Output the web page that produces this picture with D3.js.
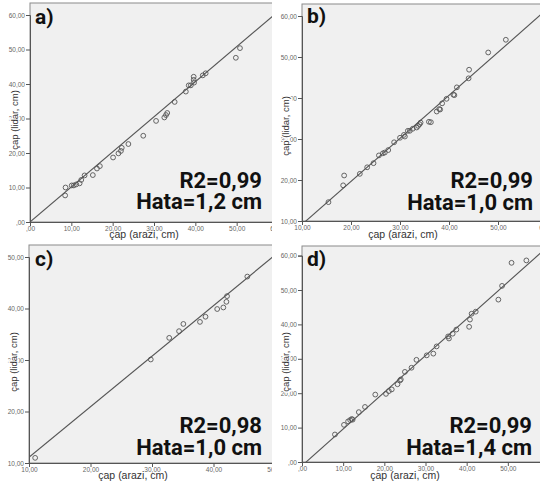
<!DOCTYPE html>
<html><head><meta charset="utf-8">
<script src="https://cdn.jsdelivr.net/npm/d3@7"></script>
<style>
html,body{margin:0;padding:0;background:#fff;}
svg{display:block;}
</style></head>
<body>
<svg id="chart" width="540" height="488"></svg>
<script>
// ---- data ----
const panelNames = ["a)", "b)", "c)", "d)"];
const r2Labels = ["R2=0,99", "R2=0,99", "R2=0,98", "R2=0,99"];
const errLabels = ["Hata=1,2 cm", "Hata=1,0 cm", "Hata=1,0 cm", "Hata=1,4 cm"];
const xTitle = "çap (arazi, cm)";
const yTitle = "çap (lidar, cm)";

const aX = [8.6, 8.5, 10.1, 10.6, 11.2, 12.0, 12.4, 13.2, 15.2, 16.2, 16.9, 20.1, 21.4, 22.0, 22.2, 23.8, 27.4, 30.5, 32.5, 32.9, 33.2, 35.0, 37.7, 38.4, 38.9, 39.6, 39.6, 39.7, 41.8, 42.5, 49.8, 50.8];
const aY = [10.0, 7.7, 10.6, 10.6, 10.9, 11.2, 12.2, 13.5, 13.6, 15.5, 16.2, 18.7, 19.9, 20.6, 21.5, 22.6, 25.0, 29.3, 30.3, 31.0, 31.6, 34.8, 37.8, 39.6, 39.6, 41.2, 42.1, 40.4, 42.5, 43.1, 47.6, 50.4];

const bX = [15.4, 18.6, 18.4, 21.8, 23.3, 24.6, 25.7, 26.5, 26.9, 27.6, 28.8, 30.0, 30.8, 31.0, 31.6, 32.0, 32.6, 33.4, 33.7, 34.0, 34.2, 35.9, 36.3, 37.5, 38.0, 38.2, 38.6, 39.5, 40.9, 41.1, 41.6, 44.0, 44.1, 48.0, 51.6];
const bY = [14.6, 21.1, 18.7, 21.5, 23.1, 24.1, 26.0, 26.5, 26.7, 27.3, 29.2, 30.3, 31.0, 30.6, 32.0, 32.0, 32.5, 32.8, 33.2, 33.6, 34.0, 34.2, 34.1, 36.7, 37.3, 37.2, 38.7, 39.8, 40.8, 40.7, 42.6, 44.8, 46.9, 51.1, 54.2];

const cX = [11.0, 29.8, 32.8, 34.4, 35.1, 37.8, 38.7, 40.6, 41.6, 42.1, 42.2, 45.5];
const cY = [11.0, 30.1, 34.3, 35.6, 37.0, 37.4, 38.4, 39.9, 40.2, 41.3, 42.4, 46.2];

const dX = [8.0, 10.2, 11.2, 11.7, 12.1, 12.3, 13.8, 15.3, 17.8, 20.4, 21.1, 21.8, 23.2, 23.8, 24.0, 25.0, 26.6, 27.8, 30.3, 31.9, 32.7, 35.5, 35.7, 36.6, 37.5, 40.6, 40.8, 41.2, 42.2, 47.7, 48.6, 50.9, 54.5];
const dY = [8.0, 10.8, 11.8, 12.2, 12.5, 12.3, 14.5, 16.0, 19.6, 19.8, 20.6, 21.1, 22.6, 23.7, 24.0, 26.2, 27.4, 29.7, 31.0, 31.5, 33.6, 36.5, 35.9, 37.3, 38.5, 39.3, 41.4, 43.1, 43.7, 47.2, 51.2, 57.9, 58.6];

// fitted lines: slope, intercept
const fitSlope = [1.016, 1.05, 0.982, 1.067];
const fitIntercept = [0.0, -1.34, 1.28, -1.07];

// axis domains and tick values
const xDomains = [[0, 60], [10, 60], [10, 50], [0, 60]];
const yDomains = [[0, 60], [10, 60], [10, 50], [0, 60]];
const xTickValues = [[0,10,20,30,40,50,60],[10,20,30,40,50,60],[10,20,30,40,50],[0,10,20,30,40,50,60]];
const yTickValues = [[0,10,20,30,40,50,60],[10,20,30,40,50,60],[10,20,30,40,50],[0,10,20,30,40,50,60]];

const seriesX = [aX, bX, cX, dX];
const seriesY = [aY, bY, cY, dY];

// ---- layout ----
const layout = [
  {clipX:0,   clipW:272, left:30,  top:3,   bottom:222, xr:[30,278],  yr:[222,15],  yTitleX:14,  yTitleY:120, xTitleX:144, xTitleY:238, labX:35,  labY:24,  txtR:262, r2Y:188, errY:209},
  {clipX:272, clipW:268, left:302, top:4,   bottom:221, xr:[302,547], yr:[221,16],  yTitleX:285, yTitleY:126, xTitleX:403, xTitleY:238, labX:307, labY:23,  txtR:533, r2Y:188, errY:210},
  {clipX:0,   clipW:272, left:29,  top:245, bottom:463, xr:[29,275],  yr:[463,257], yTitleX:13,  yTitleY:362, xTitleX:133, xTitleY:479, labX:35,  labY:266, txtR:262, r2Y:433, errY:455},
  {clipX:272, clipW:268, left:302, top:246, bottom:462, xr:[302,549], yr:[462,255.6], yTitleX:285, yTitleY:362, xTitleX:405, xTitleY:479, labX:307, labY:266, txtR:532, r2Y:433, errY:455}
];

const svg = d3.select("#chart");
const defs = svg.append("defs");
const fmt = v => v === 0 ? ",00" : v + ",00";

layout.forEach((L, i) => {
  const x = d3.scaleLinear().domain(xDomains[i]).range(L.xr);
  const y = d3.scaleLinear().domain(yDomains[i]).range(L.yr);
  const clipId = "clip" + i;
  defs.append("clipPath").attr("id", clipId)
    .append("rect").attr("x", L.clipX).attr("y", 0).attr("width", L.clipW).attr("height", 488);
  const pClip = "pclip" + i;
  const right = L.clipX + L.clipW + 10;
  defs.append("clipPath").attr("id", pClip)
    .append("rect").attr("x", L.left).attr("y", L.top).attr("width", right - L.left).attr("height", L.bottom - L.top);

  const g = svg.append("g").attr("clip-path", `url(#${clipId})`);

  // plot background + frame
  g.append("rect").attr("x", L.left).attr("y", L.top)
    .attr("width", right - L.left).attr("height", L.bottom - L.top)
    .attr("fill", "#f0f0f0").attr("stroke", "#8a8a8a").attr("stroke-width", 1);

  // axes
  const xAxis = d3.axisBottom(x).tickValues(xTickValues[i]).tickFormat(fmt).tickSize(4).tickPadding(0);
  const yAxis = d3.axisLeft(y).tickValues(yTickValues[i]).tickFormat(fmt).tickSize(4).tickPadding(1);
  const gx = g.append("g").attr("transform", `translate(0,${L.bottom})`).call(xAxis);
  const gy = g.append("g").attr("transform", `translate(${L.left},0)`).call(yAxis);
  [gx, gy].forEach(ax => {
    ax.select(".domain").attr("stroke", "#555");
    ax.selectAll(".tick line").attr("stroke", "#555");
    ax.selectAll(".tick text").attr("fill", "#666")
      .style("font-family", "'Liberation Sans', Arial, sans-serif").style("font-size", "6.5px");
  });

  // points and fit line, clipped to plot area
  const pg = g.append("g").attr("clip-path", `url(#${pClip})`);
  const xd = xDomains[i];
  const x0 = xd[0] - 5, x1 = xd[1] + 10;
  pg.append("line")
    .attr("x1", x(x0)).attr("y1", y(fitSlope[i] * x0 + fitIntercept[i]))
    .attr("x2", x(x1)).attr("y2", y(fitSlope[i] * x1 + fitIntercept[i]))
    .attr("stroke", "#555").attr("stroke-width", 1.1);
  pg.selectAll("circle").data(seriesX[i].map((v, k) => [v, seriesY[i][k]]))
    .enter().append("circle")
    .attr("cx", d => x(d[0])).attr("cy", d => y(d[1])).attr("r", 2.4)
    .attr("fill", "none").attr("stroke", "#555").attr("stroke-width", 0.9);

  // axis titles
  g.append("text").attr("x", L.xTitleX).attr("y", L.xTitleY)
    .attr("text-anchor", "middle").attr("fill", "#333")
    .style("font-family", "'Liberation Sans', Arial, sans-serif").style("font-size", "10.5px")
    .text(xTitle);
  g.append("text").attr("transform", `translate(${L.yTitleX},${L.yTitleY}) rotate(-90)`)
    .attr("text-anchor", "middle").attr("dominant-baseline", "central").attr("fill", "#333")
    .attr("stroke", "#fff").attr("stroke-width", 3).attr("paint-order", "stroke")
    .style("font-family", "'Liberation Sans', Arial, sans-serif").style("font-size", "9.5px")
    .text(yTitle);

  // panel label and stats
  const big = "Roboto, 'Noto Sans', sans-serif";
  g.append("text").attr("x", L.labX).attr("y", L.labY).attr("fill", "#111")
    .style("font-family", big).style("font-weight", "700").style("font-size", "21px")
    .text(panelNames[i]);
  g.append("text").attr("x", L.txtR).attr("y", L.r2Y).attr("text-anchor", "end").attr("fill", "#111")
    .style("font-family", big).style("font-weight", "700").style("font-size", "22px")
    .text(r2Labels[i]);
  g.append("text").attr("x", L.txtR).attr("y", L.errY).attr("text-anchor", "end").attr("fill", "#111")
    .style("font-family", big).style("font-weight", "700").style("font-size", "22px")
    .text(errLabels[i]);
});
</script>
</body></html>
